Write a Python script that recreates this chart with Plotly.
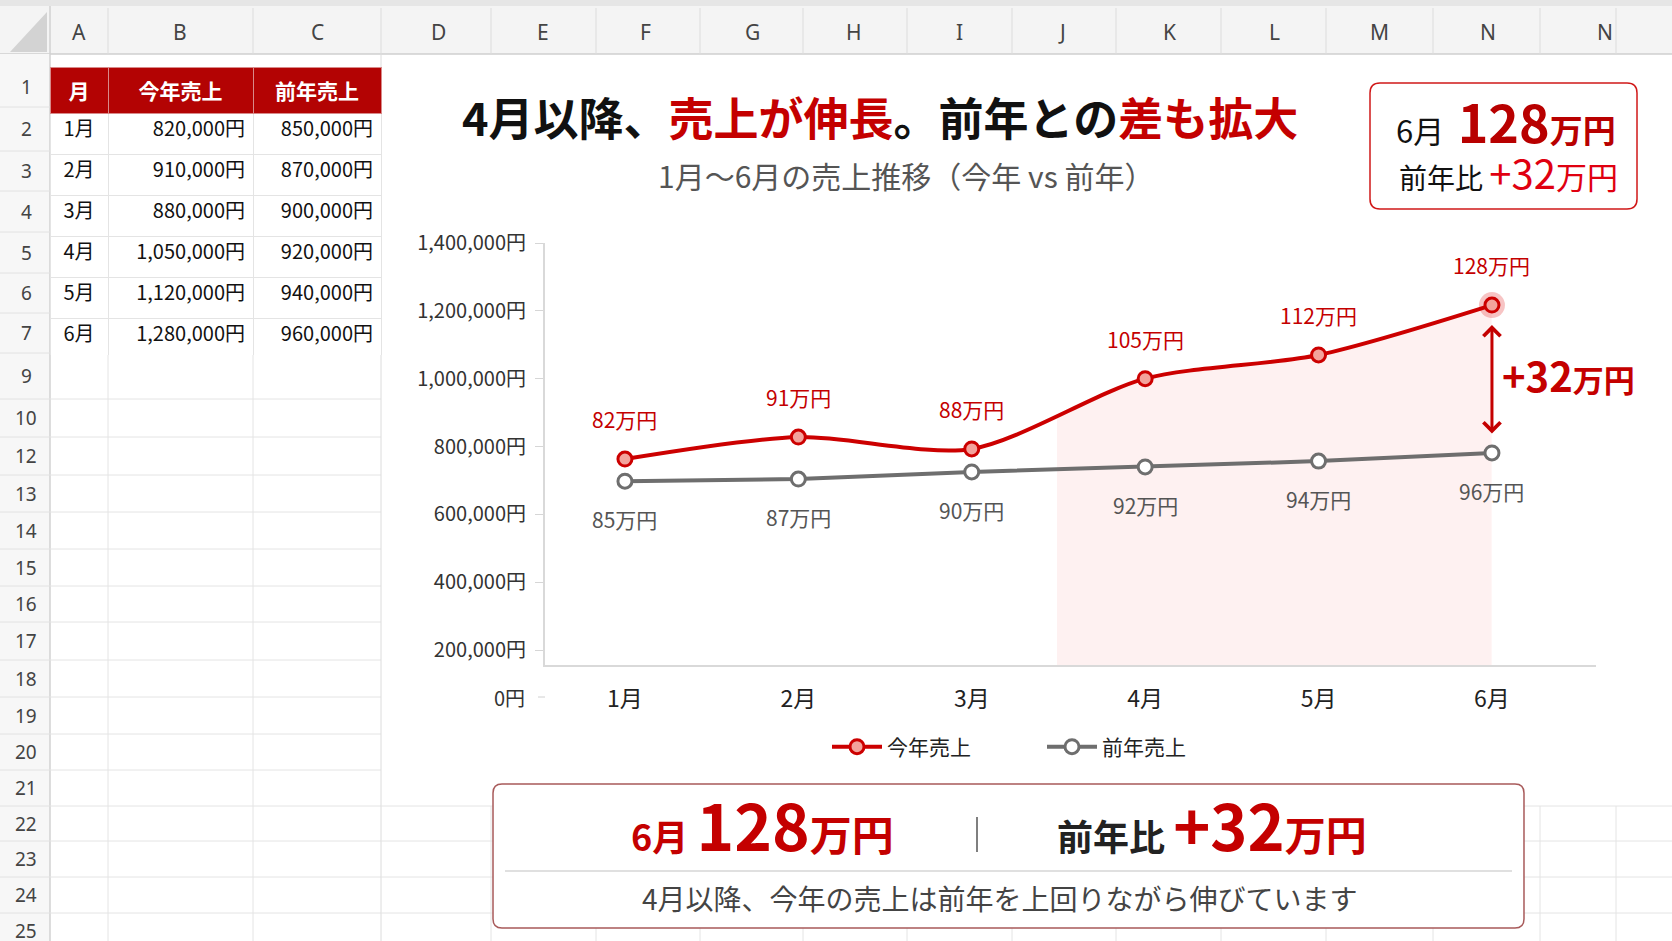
import plotly.graph_objects as go

W, H = 1672, 941

# ---- data -------------------------------------------------------------
months = ["1月", "2月", "3月", "4月", "5月", "6月"]
sales_this = [820000, 910000, 880000, 1050000, 1120000, 1280000]
sales_last = [850000, 870000, 900000, 920000, 940000, 960000]

# where the points sit in the drawn chart
plot_this = [763000, 828000, 793000, 1000000, 1070000, 1217000]
plot_last = [698000, 704000, 725000, 740000, 757000, 781000]

y_ticks = [200000, 400000, 600000, 800000, 1000000, 1200000, 1400000]

col_letters = ["A", "B", "C", "D", "E", "F", "G", "H", "I", "J", "K", "L", "M", "N", "N"]
row_labels = ["1", "2", "3", "4", "5", "6", "7", "9", "10", "12", "13", "14", "15",
              "16", "17", "18", "19", "20", "21", "22", "23", "24", "25"]

# ---- sheet geometry (pixels) -------------------------------------------
letter_x = [79, 180, 317, 438, 543, 645, 752, 854, 959, 1062, 1169, 1274, 1379, 1488, 1605]
col_edges = [50, 108, 253, 381, 491, 596, 700, 803, 907, 1012, 1116, 1221, 1326, 1433, 1540, 1616]
row_edges = [67, 107, 151, 191, 232, 273, 313, 353, 399, 437, 475, 512, 549, 586, 622,
             660, 697, 734, 770, 806, 841, 877, 913, 949]

FONT = "Noto Sans CJK JP"
RED = "#c40000"
GRID = "#e4e4e4"


def px(x):
    return x / W


def py(y):
    return 1 - y / H


def rounded_rect(x0, y0, x1, y1, r):
    X = lambda v: f"{v / W:.5f}"
    Y = lambda v: f"{1 - v / H:.5f}"
    return (f"M{X(x0 + r)},{Y(y0)} L{X(x1 - r)},{Y(y0)} Q{X(x1)},{Y(y0)} {X(x1)},{Y(y0 + r)} "
            f"L{X(x1)},{Y(y1 - r)} Q{X(x1)},{Y(y1)} {X(x1 - r)},{Y(y1)} L{X(x0 + r)},{Y(y1)} "
            f"Q{X(x0)},{Y(y1)} {X(x0)},{Y(y1 - r)} L{X(x0)},{Y(y0 + r)} Q{X(x0)},{Y(y0)} {X(x0 + r)},{Y(y0)} Z")


def hline(x0, x1, y, color=GRID, width=1):
    return dict(type="line", xref="paper", yref="paper", x0=px(x0), x1=px(x1),
                y0=py(y), y1=py(y), line=dict(color=color, width=width), layer="below")


def vline(x, y0, y1, color=GRID, width=1):
    return dict(type="line", xref="paper", yref="paper", x0=px(x), x1=px(x),
                y0=py(y0), y1=py(y1), line=dict(color=color, width=width), layer="below")


def rect(x0, y0, x1, y1, fill):
    return dict(type="rect", xref="paper", yref="paper", x0=px(x0), x1=px(x1),
                y0=py(y1), y1=py(y0), fillcolor=fill, line=dict(width=0), layer="below")


def label(x, y, text, size, color="#222", xanchor="center", family=FONT):
    return dict(xref="paper", yref="paper", x=px(x), y=py(y), text=text, showarrow=False,
                xanchor=xanchor, yanchor="middle", font=dict(family=family, size=size, color=color))


shapes = []
annotations = []

# sheet chrome
shapes.append(rect(0, 0, W, 6, "#e6e6e6"))
shapes.append(rect(0, 6, W, 54, "#f4f4f4"))
shapes.append(hline(0, W, 54, "#cfcfcf", 1.5))
shapes.append(rect(0, 54, 50, H, "#f7f7f7"))
shapes.append(vline(50, 6, H, "#d2d2d2", 1.5))
shapes.append(dict(type="path", xref="paper", yref="paper", layer="below",
                   path=f"M{px(10)},{py(52)} L{px(47)},{py(52)} L{px(47)},{py(12)} Z",
                   fillcolor="#d3d3d3", line=dict(width=0)))
for e in col_edges[1:]:
    shapes.append(vline(e, 8, 54, "#dcdcdc"))
for lx, letter in zip(letter_x, col_letters):
    annotations.append(label(lx, 32, letter, 21, "#444", family="Noto Sans"))

for i, r in enumerate(row_labels):
    annotations.append(label(26, (row_edges[i] + row_edges[i + 1]) / 2, r, 19, "#444", family="Noto Sans"))
    shapes.append(hline(0, 50, row_edges[i + 1], "#e2e2e2"))

# empty cells below the data
for e in row_edges[7:]:
    shapes.append(hline(50, 381, e))
for e in [108, 253]:
    shapes.append(vline(e, 353, H))
shapes.append(vline(381, 54, H, "#dcdcdc"))
for e in row_edges[19:]:
    shapes.append(hline(381, W, e))
for e in col_edges[4:]:
    shapes.append(vline(e, 806, H))

gap = (sales_this[-1] - sales_last[-1]) // 10000

# ---- kpi box (top right) -------------------------------------------------
shapes.append(dict(type="path", xref="paper", yref="paper", layer="below",
                   path=rounded_rect(1370, 83, 1637, 209, 10), fillcolor="white",
                   line=dict(color="#d01818", width=1.5)))
annotations.append(label(1506, 121,
    f"<span style='font-size:31px;color:#111'>6月</span>  "
    f"<b><span style='font-size:52px;color:#b80000'>{sales_this[-1] // 10000}</span>"
    f"<span style='font-size:33px;color:#b80000'>万円</span></b>", 30))
annotations.append(label(1508, 172,
    f"<span style='font-size:28px;color:#111'>前年比</span> "
    f"<span style='font-size:40px;color:#e00010'>+{gap}</span>"
    f"<span style='font-size:31px;color:#e00010'>万円</span>", 28))

# ---- title ---------------------------------------------------------------
annotations.append(label(880, 117,
    f"<b>4月以降、<span style='color:{RED}'>売上が伸長</span>。前年との"
    f"<span style='color:{RED}'>差も拡大</span></b>", 45, "#111"))
annotations.append(label(906, 175, "1月〜6月の売上推移（今年 vs 前年）", 30, "#555"))

# ---- summary box (bottom) -----------------------------------------------
shapes.append(dict(type="path", xref="paper", yref="paper", layer="below",
                   path=rounded_rect(493, 784, 1524, 928, 9), fillcolor="white",
                   line=dict(color="#a85a5a", width=1.5)))
shapes.append(hline(505, 1512, 871, "#d6d6d6", 1.5))
shapes.append(vline(977, 817, 852, "#555", 1.5))
annotations.append(label(762, 823,
    f"<b><span style='font-size:36px;color:{RED}'>6月</span> "
    f"<span style='font-size:64px;color:{RED}'>{sales_this[-1] // 10000}</span>"
    f"<span style='font-size:42px;color:{RED}'>万円</span></b>", 36))
annotations.append(label(1212, 823,
    f"<b><span style='font-size:36px;color:#222'>前年比</span> "
    f"<span style='font-size:63px;color:{RED}'>+{gap}</span>"
    f"<span style='font-size:41px;color:{RED}'>万円</span></b>", 36))
annotations.append(label(1000, 898, "4月以降、今年の売上は前年を上回りながら伸びています", 28, "#444"))

# ---- chart -----------------------------------------------------------------
x_range = [-0.461, 5.60]
y_range = [156000, 1400000]
plot_dom_y = [py(665), py(243)]

fig = go.Figure()

# pink area from between 3月 and 4月 to 6月 (own clipped axes)
fig.add_trace(go.Scatter(x=months, y=plot_this, mode="lines", line=dict(width=0, shape="spline", smoothing=0.8),
                         fill="tozeroy", fillcolor="rgba(235,70,70,0.075)", xaxis="x", yaxis="y",
                         showlegend=False, hoverinfo="skip"))

fig.add_trace(go.Scatter(x=months, y=plot_last, name="前年売上", mode="lines+markers",
                         line=dict(color="#6e6e6e", width=4),
                         marker=dict(size=14, color="white", line=dict(color="#6e6e6e", width=3)),
                         xaxis="x2", yaxis="y2"))
fig.add_trace(go.Scatter(x=months[-1:], y=plot_this[-1:], mode="markers",
                         marker=dict(size=26, color="rgba(230,60,60,0.30)"),
                         xaxis="x2", yaxis="y2", showlegend=False, hoverinfo="skip"))
fig.add_trace(go.Scatter(x=months, y=plot_this, name="今年売上", mode="lines+markers",
                         line=dict(color="#cc0000", width=4, shape="spline", smoothing=0.8),
                         marker=dict(size=14, color="#f3a39c", line=dict(color="#cc0000", width=3)),
                         xaxis="x2", yaxis="y2"))

# point labels
for m, v, s in zip(months, plot_this, sales_this):
    annotations.append(dict(x=m, y=v, xref="x2", yref="y2", text=f"{s // 10000}万円", showarrow=False,
                            yshift=40, font=dict(family=FONT, size=21, color=RED)))
for m, v, s in zip(months, plot_last, sales_last):
    annotations.append(dict(x=m, y=v, xref="x2", yref="y2", text=f"{s // 10000}万円", showarrow=False,
                            yshift=-38, font=dict(family=FONT, size=21, color="#555")))

# gap arrow at 6月
last = len(months) - 1
annotations.append(dict(x=last, y=plot_this[last], ax=last, ay=plot_last[last],
                        xref="x2", yref="y2", axref="x2", ayref="y2", text="",
                        showarrow=True, arrowside="end+start", arrowhead=4, startarrowhead=4,
                        arrowsize=1.1, startarrowsize=1.1, arrowwidth=3, arrowcolor=RED,
                        standoff=20, startstandoff=18))
annotations.append(label(1568, 375,
    f"<b><span style='font-size:40px;color:{RED}'>+{gap}</span>"
    f"<span style='font-size:31px;color:{RED}'>万円</span></b>", 40))

# 0円 sits below the cut-off axis
annotations.append(label(527, 697, "0円", 20, "#333", xanchor="right"))
shapes.append(dict(type="line", xref="paper", yref="paper", x0=px(538), x1=px(545),
                   y0=py(697), y1=py(697), line=dict(color="#d0d0d0", width=1)))

fig.update_layout(
    width=W, height=H,
    margin=dict(l=0, r=0, t=0, b=0, autoexpand=False),
    paper_bgcolor="white",
    plot_bgcolor="rgba(0,0,0,0)",
    font=dict(family=FONT, size=19, color="#222"),
    xaxis=dict(domain=[px(1057), px(1596)], range=[2.5, x_range[1]], visible=False, anchor="y",
               type="category", categoryorder="array", categoryarray=months, automargin=False),
    yaxis=dict(domain=plot_dom_y, range=y_range, visible=False, anchor="x", automargin=False),
    xaxis2=dict(domain=[px(545), px(1596)], range=x_range, anchor="y2", type="category",
                categoryorder="array", categoryarray=months, automargin=False,
                showline=True, linecolor="#d9d9d9", linewidth=2, showgrid=False, zeroline=False,
                ticks="", ticklabelstandoff=12, tickfont=dict(family=FONT, size=23, color="#222")),
    yaxis2=dict(domain=plot_dom_y, range=y_range, anchor="x2", automargin=False,
                tickvals=y_ticks, ticktext=[f"{v:,}円" for v in y_ticks],
                showline=True, linecolor="#d9d9d9", linewidth=2, showgrid=False, zeroline=False,
                ticks="outside", ticklen=8, tickcolor="#d6d6d6", ticklabelstandoff=5,
                tickfont=dict(family=FONT, size=20, color="#333")),
    legend=dict(orientation="h", x=px(1042), xanchor="center", y=py(747), yanchor="middle",
                traceorder="reversed", font=dict(family=FONT, size=21, color="#222"),
                itemwidth=50, entrywidth=150, bgcolor="rgba(0,0,0,0)"),
    shapes=shapes,
    annotations=annotations,
    showlegend=True,
)

# data table (rows 1-7)
fig.add_trace(go.Table(
    domain=dict(x=[px(50), px(381)], y=[py(355), py(67)]),
    columnwidth=[58, 145, 128],
    header=dict(values=["<b>月</b>", "<b>今年売上</b>", "<b>前年売上</b>"],
                fill_color="#b30303", line=dict(color="#d88a8a", width=1),
                font=dict(family=FONT, size=21, color="white"), align="center", height=40),
    cells=dict(values=[months, [f"{v:,}円" for v in sales_this], [f"{v:,}円" for v in sales_last]],
               fill_color="white", line=dict(color=GRID, width=1),
               font=dict(family=FONT, size=20, color="#111"),
               align=["center", "right", "right"], height=41),
))

pin_page = "document.body.style.margin='0';document.body.style.overflow='hidden';"
fig.write_html("out.html", config={"displayModeBar": False}, post_script=pin_page)
